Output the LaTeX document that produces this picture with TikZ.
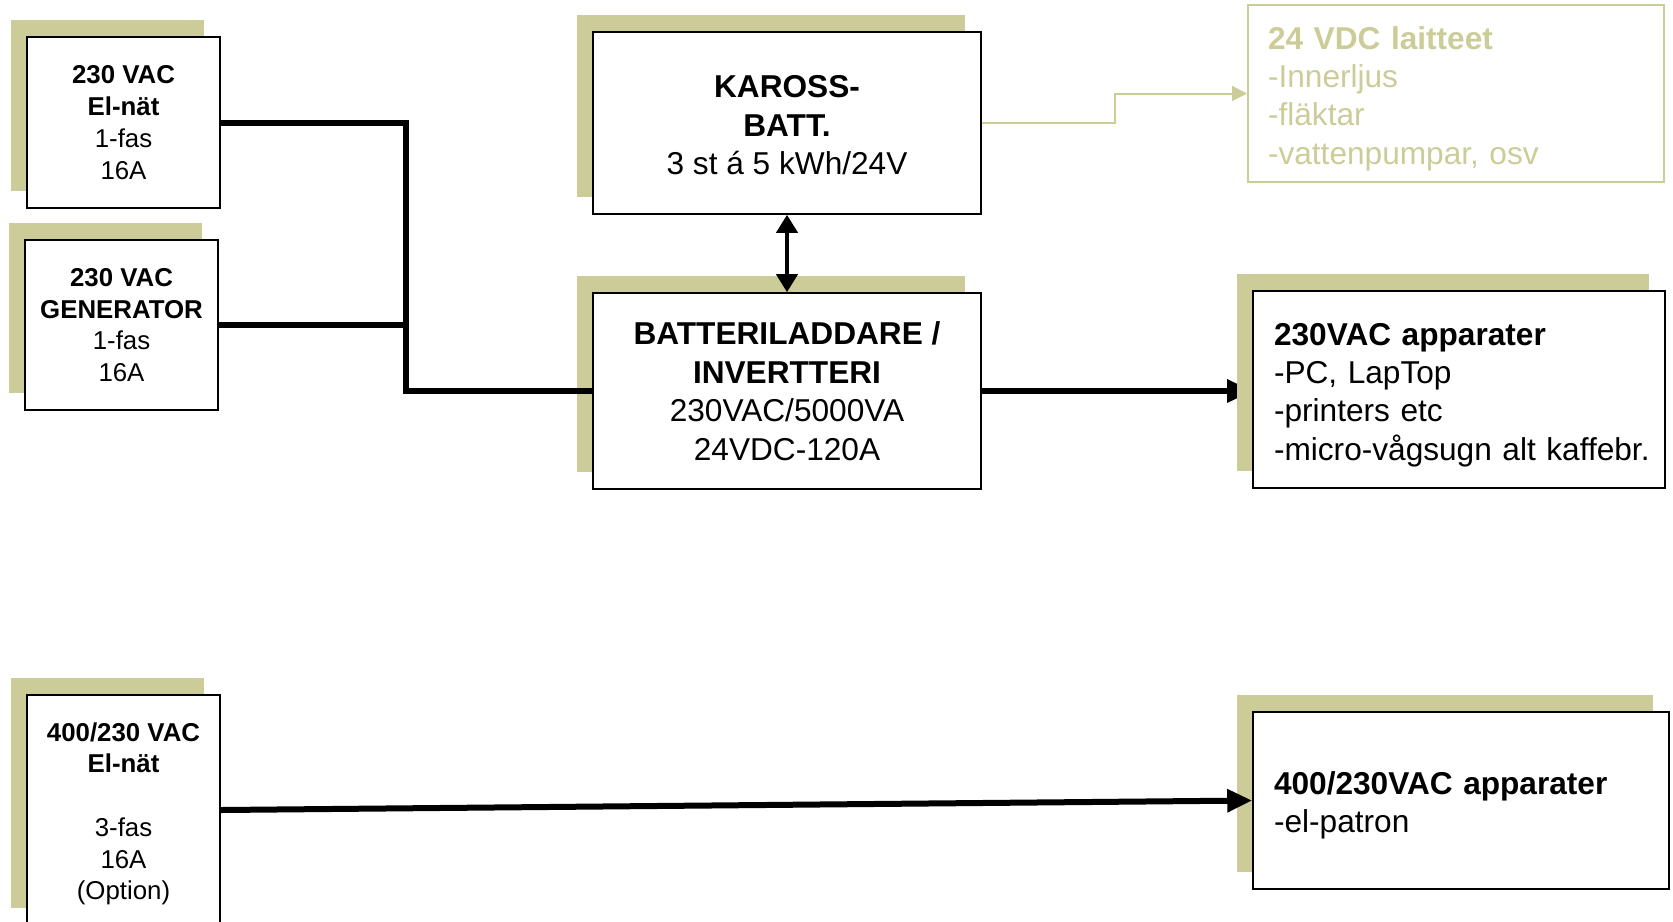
\documentclass[tikz,border=0pt]{standalone}
\usepackage{fontspec}
\setmainfont{Liberation Sans}
\usetikzlibrary{arrows.meta,shadows}
\definecolor{khaki}{RGB}{204,204,153}
\newlength{\pxu}\setlength{\pxu}{0.02cm}
\newcommand{\topstrut}{\rule{0pt}{18.8pt}}
\pgfdeclarelayer{bg}\pgfsetlayers{bg,main}

\begin{document}
\begin{tikzpicture}[x=0.02cm, y=-0.02cm,
  blockbox/.style={draw, line width=0.9pt, fill=white, inner sep=0pt,
    general shadow={fill=khaki, shadow xshift=-16\pxu, shadow yshift=17\pxu}},
  srcbox/.style={blockbox, align=center, minimum width=193\pxu,
    font=\fontsize{14.7}{18.1}\selectfont},
  midbox/.style={blockbox, align=center, minimum width=388\pxu,
    font=\fontsize{18}{21.9}\selectfont},
  loadbox/.style={blockbox, align=left, inner xsep=21\pxu,
    font=\fontsize{18}{21.9}\selectfont},
  feed/.style={line width=6\pxu},
  bigtip/.style={-{Triangle[length=0.5cm, width=0.44cm]}},
  dcline/.style={draw=khaki, line width=2\pxu, -{Triangle[length=0.3cm, width=0.3cm]}}
]
  \path[use as bounding box, clip] (0,0) rectangle (1673,921);

  % --- matning ---
  \node[srcbox, minimum height=171\pxu] (elnat) at (123.5,122.5)
    {\textbf{230 VAC}\\\textbf{El-nät}\\1-fas\\16A};
  \node[srcbox, minimum height=170\pxu] (gen) at (121.5,325)
    {\textbf{230 VAC}\\\textbf{GENERATOR}\\1-fas\\16A};
  \node[srcbox, minimum height=230\pxu] (elnat3) at (123.5,810)
    {\rule{0pt}{15pt}\textbf{400/230 VAC}\\\textbf{El-nät}\\[18pt]3-fas\\16A\\(Option)};

  % --- batteri och laddare ---
  \node[midbox, minimum height=182\pxu] (kaross) at (787,123)
    {\rule{0pt}{15pt}\textbf{KAROSS-}\\\textbf{BATT.}\\3 st á 5 kWh/24V};
  \node[midbox, minimum height=196\pxu] (laddare) at (787,391)
    {\textbf{BATTERILADDARE /}\\\textbf{INVERTTERI}\\230VAC/5000VA\\24VDC-120A};

  % --- laster ---
  \node[draw=khaki, line width=2\pxu, text=khaki, align=left, inner sep=0pt,
    inner xsep=20\pxu, text width=376\pxu, minimum height=177\pxu,
    font=\fontsize{18}{21.9}\selectfont] (dc) at (1456,93.5)
    {\topstrut\textbf{24 VDC laitteet}\\-Innerljus\\-fläktar\\-vattenpumpar, osv};
  \node[loadbox, text width=370\pxu, minimum height=197\pxu] (ac) at (1459,389.5)
    {\topstrut\textbf{230VAC apparater}\\-PC, LapTop\\-printers etc\\\mbox{-micro-vågsugn alt kaffebr.}};
  \node[loadbox, text width=374\pxu, minimum height=177\pxu] (ac3) at (1461,800.5)
    {\topstrut\textbf{400/230VAC apparater}\\-el-patron};

  % --- ledningar ---
  \coordinate (bus) at (406,391);
  \coordinate (dcknee) at (1115,123);
  \draw[feed] (elnat.east) -| (bus) -- (laddare.west);
  \draw[feed] (gen.east) -- (gen.east -| bus);
  \draw[line width=4\pxu, {Triangle[length=0.36cm, width=0.42cm]}-{Triangle[length=0.36cm, width=0.42cm]}]
    (kaross.south) -- (laddare.north);
  \begin{pgfonlayer}{bg}
    \draw[feed, bigtip] (laddare.east) -- (laddare.east -| ac.west);
  \end{pgfonlayer}
  \draw[dcline] (kaross.east) -- (dcknee) |- (dc.west);
  \draw[feed, bigtip] (elnat3.east) -- (ac3.west);

\end{tikzpicture}
\end{document}
